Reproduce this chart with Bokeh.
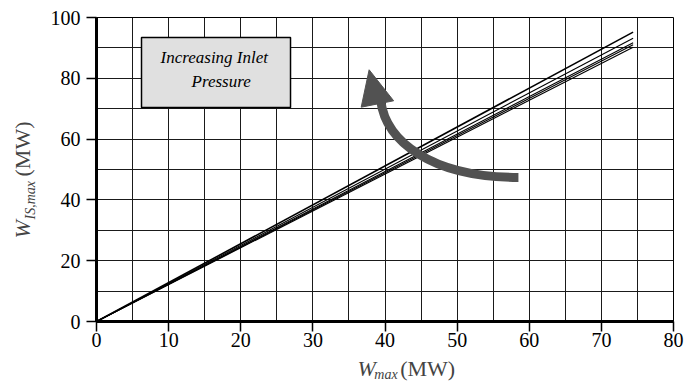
from bokeh.plotting import figure
from bokeh.models import Label, BoxAnnotation, SingleIntervalTicker, Range1d
from bokeh.layouts import row, column
from bokeh.embed import file_html
from bokeh.resources import INLINE
import math

# ---- data ----
w_max = [0, 74.4]
w_is_series = [
    [0, 95.2],
    [0, 93.2],
    [0, 91.7],
    [0, 91.0],
    [0, 90.2],
]
series_widths = [1.6, 1.1, 1.1, 1.1, 1.1]
x_ticks_interval = 10
y_ticks_interval = 20

FONT = "Liberation Serif"
TOTAL_W, TOTAL_H = 688, 383
YLAB_W = 40
MAIN_H = 352

p = figure(width=TOTAL_W - YLAB_W, height=MAIN_H, output_backend="svg", toolbar_location=None,
           x_range=Range1d(0, 80), y_range=Range1d(0, 100),
           min_border_left=56, min_border_right=15, min_border_top=17, min_border_bottom=31)
p.background_fill_color = "white"
p.border_fill_color = "white"
p.outline_line_color = "black"
p.outline_line_width = 1

# axes
p.xaxis.ticker = SingleIntervalTicker(interval=x_ticks_interval, num_minor_ticks=0)
p.yaxis.ticker = SingleIntervalTicker(interval=y_ticks_interval, num_minor_ticks=0)
for ax in (p.xaxis[0], p.yaxis[0]):
    ax.axis_line_width = 3
    ax.axis_line_color = "black"
    ax.major_tick_out = 10
    ax.major_tick_in = 0
    ax.major_tick_line_color = "black"
    ax.major_tick_line_width = 1.5
    ax.minor_tick_line_color = None
    ax.major_label_text_font = FONT
    ax.major_label_text_font_size = "20px"
    ax.major_label_text_color = "black"
p.xaxis.major_label_standoff = 1
p.yaxis.major_label_standoff = 6

# grid
p.xgrid.ticker = SingleIntervalTicker(interval=5)
p.ygrid.ticker = SingleIntervalTicker(interval=10)
for g in (p.xgrid[0], p.ygrid[0]):
    g.grid_line_color = "#1a1a1a"
    g.grid_line_width = 1

# data lines
for ys, lw in zip(w_is_series, series_widths):
    p.line(w_max, ys, line_color="black", line_width=lw)

# curved arrow
p.bezier(x0=[58.5], y0=[47.4], x1=[39.4], y1=[72.7],
         cx0=[46.3], cy0=[47.4], cx1=[40.1], cy1=[59.5],
         line_color="#525252", line_width=9)
p.patch([37.8, 36.7, 41.2], [82.8, 70.5, 72.6], fill_color="#525252", line_color="#525252", line_width=1)

# annotation box
box = BoxAnnotation(left=6.24, right=26.9, bottom=70.4, top=93.4,
                    fill_color="#e0e0e0", fill_alpha=1.0,
                    line_color="black", line_width=1.5, line_alpha=1.0)
p.add_layout(box)
p.add_layout(Label(x=8.88, y=86.8, text="Increasing Inlet", text_font=FONT,
                   text_font_style="italic", text_font_size="17px", text_color="black",
                   text_baseline="alphabetic", text_align="left"))
p.add_layout(Label(x=13.18, y=78.9, text="Pressure", text_font=FONT,
                   text_font_style="italic", text_font_size="17px", text_color="black",
                   text_baseline="alphabetic", text_align="left"))


def blank(w, h, xr, yr):
    f = figure(width=w, height=h, output_backend="svg", toolbar_location=None,
               x_range=Range1d(*xr), y_range=Range1d(*yr),
               x_axis_type=None, y_axis_type=None,
               min_border=0, min_border_left=0, min_border_right=0,
               min_border_top=0, min_border_bottom=0)
    f.outline_line_color = None
    f.background_fill_color = "white"
    f.border_fill_color = "white"
    f.xgrid.visible = False
    f.ygrid.visible = False
    return f


# x axis label strip: coordinates are canvas pixels
xl = blank(TOTAL_W - YLAB_W, TOTAL_H - MAIN_H, (YLAB_W, TOTAL_W), (TOTAL_H, MAIN_H))
xl.add_layout(Label(x=333, y=368, text="W", text_font=FONT, text_font_style="italic",
                    text_font_size="22px", text_baseline="alphabetic", text_align="left"))
xl.add_layout(Label(x=352, y=374, text="max", text_font=FONT, text_font_style="italic",
                    text_font_size="14px", text_baseline="alphabetic", text_align="left"))
xl.add_layout(Label(x=381, y=368, text="(MW)", text_font=FONT,
                    text_font_size="22px", text_baseline="alphabetic", text_align="left"))

# y axis label strip
a = math.pi / 2
yl = blank(YLAB_W, TOTAL_H, (0, YLAB_W), (TOTAL_H, 0))
yl.add_layout(Label(x=22, y=238, text="W", angle=a, text_font=FONT, text_font_style="italic",
                    text_font_size="22px", text_baseline="alphabetic", text_align="left"))
yl.add_layout(Label(x=30, y=219, text="IS,max", angle=a, text_font=FONT, text_font_style="italic",
                    text_font_size="14px", text_baseline="alphabetic", text_align="left"))
yl.add_layout(Label(x=22, y=176, text="(MW)", angle=a, text_font=FONT,
                    text_font_size="22px", text_baseline="alphabetic", text_align="left"))

layout = row(yl, column(p, xl, spacing=0), spacing=0)
open("out.html", "w").write(file_html(layout, INLINE))
